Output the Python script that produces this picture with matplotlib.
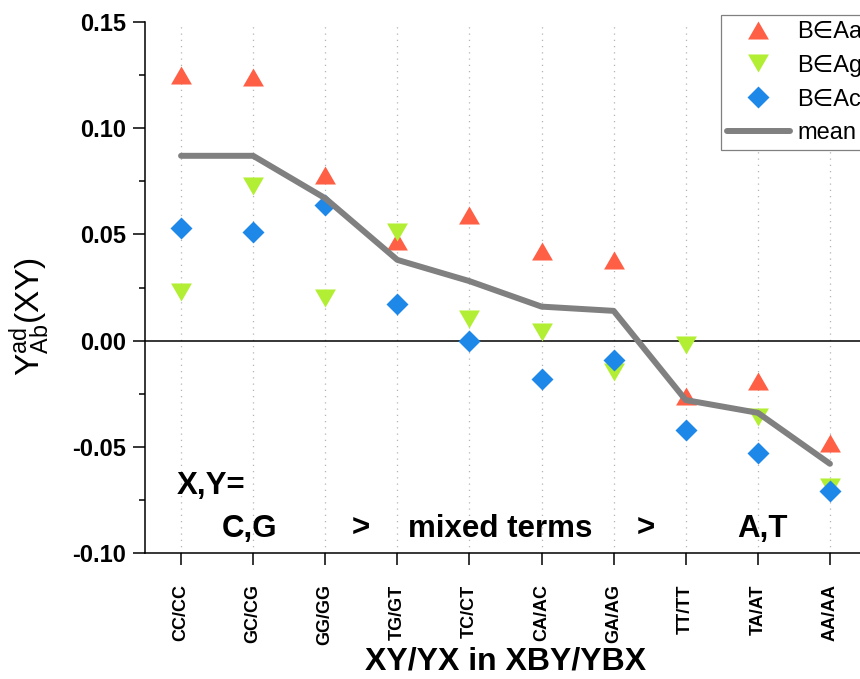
import matplotlib

matplotlib.use("Agg")
import matplotlib.pyplot as plt
from matplotlib.ticker import MultipleLocator

plt.rcParams["font.family"] = ["Liberation Sans", "DejaVu Sans"]
plt.rcParams["mathtext.fontset"] = "custom"
plt.rcParams["mathtext.rm"] = "Liberation Sans"

# step pairs, ordered from C,G-rich to A,T-rich
pairs = ["CC/CC", "GC/CG", "GG/GG", "TG/GT", "TC/CT",
         "CA/AC", "GA/AG", "TT/TT", "TA/AT", "AA/AA"]

b_in_aa = [0.125, 0.124, 0.078, 0.047, 0.059, 0.042, 0.038, -0.026, -0.019, -0.048]
b_in_ag = [0.023, 0.073, 0.020, 0.051, 0.010, 0.004, -0.015, -0.002, -0.036, -0.069]
b_in_ac = [0.053, 0.051, 0.064, 0.017, 0.000, -0.018, -0.009, -0.042, -0.053, -0.071]
mean_y = [0.087, 0.087, 0.067, 0.038, 0.028, 0.016, 0.014, -0.028, -0.034, -0.058]

# equilateral triangles (width > height), centred on their bounding box
tri_up = [(-1, -0.866), (1, -0.866), (0, 0.866)]
tri_down = [(-1, 0.866), (1, 0.866), (0, -0.866)]

x = list(range(len(pairs)))

fig = plt.figure(figsize=(8.6, 6.79), dpi=100)
ax = fig.add_axes([145 / 860, 126 / 679, 721 / 860, 531 / 679])

for xi in x:
    ax.axvline(xi, color="#b4b4b4", lw=0.9, ls=(0, (1, 4)), zorder=0)
ax.axhline(0, color="black", lw=1.1, zorder=1)

ax.plot(x, b_in_aa, ls="none", marker=tri_up, ms=15, color="#ff5f45",
        mec="none", label="B\u2208Aa", zorder=3)
ax.plot(x, b_in_ag, ls="none", marker=tri_down, ms=15, color="#b2ee33",
        mec="none", label="B\u2208Ag", zorder=4)
ax.plot(x, b_in_ac, ls="none", marker="D", ms=11, color="#1e88e8",
        mec="none", label="B\u2208Ac", zorder=5)
ax.plot(x, mean_y, color="#808080", lw=4.3, solid_capstyle="round",
        solid_joinstyle="round", label="mean", zorder=6)

ax.set_xlim(-0.5, 9.5)
ax.set_ylim(-0.10, 0.15)
ax.set_xticks(x)
ax.set_xticklabels(pairs, rotation=90, fontsize=13, fontweight="bold")
ax.yaxis.set_major_locator(MultipleLocator(0.05))
ax.yaxis.set_minor_locator(MultipleLocator(0.025))
ax.yaxis.set_major_formatter(lambda v, pos: f"{v:.2f}")
for lab in ax.get_yticklabels():
    lab.set_fontweight("bold")
    lab.set_fontsize(17)

ax.tick_params(axis="both", which="major", direction="out", length=8.5, width=1.1)
ax.tick_params(axis="y", which="minor", direction="out", length=4.5, width=1.1)
ax.tick_params(axis="x", pad=14)
ax.tick_params(axis="y", pad=5)

for side in ("top", "right"):
    ax.spines[side].set_visible(False)
for side in ("left", "bottom"):
    ax.spines[side].set_linewidth(1.1)

ax.set_xlabel("XY/YX in XBY/YBX", fontsize=23, fontweight="bold")
ax.xaxis.set_label_coords(0.5, -0.176)
ax.set_ylabel(r"$\mathregular{Y^{ad}_{Ab}}$(XY)", fontsize=24)
ax.yaxis.set_label_coords(-0.129, 0.446)

note = dict(fontsize=22.5, fontweight="bold", ha="left", va="center")
ax.text(-0.055, -0.0683, "X,Y=", **note)
ax.text(0.57, -0.0885, "C,G", **note)
ax.text(2.37, -0.0885, ">", **note)
ax.text(3.15, -0.0885, "mixed terms", **note)
ax.text(6.32, -0.0885, ">", **note)
ax.text(7.71, -0.0885, "A,T", **note)

leg = ax.legend(loc="upper left", bbox_to_anchor=(721 / 860, 1 - 15 / 679),
                bbox_transform=fig.transFigure, borderaxespad=0, fontsize=17,
                numpoints=1, handlelength=2.67, handletextpad=0.3,
                labelspacing=0.5, borderpad=0.25, fancybox=False,
                framealpha=1, edgecolor="#808080")
leg.get_frame().set_linewidth(0.9)

fig.savefig("out.png", dpi=100)
